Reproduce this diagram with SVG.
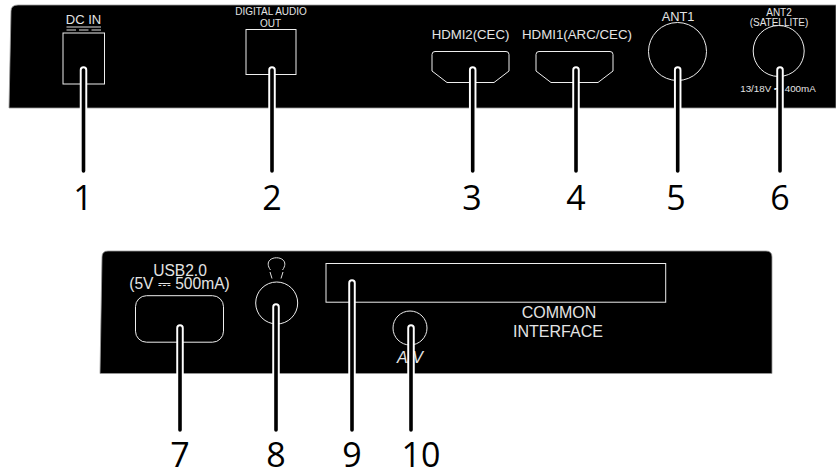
<svg xmlns="http://www.w3.org/2000/svg" width="836" height="472" viewBox="0 0 836 472">
<style>
.panel{fill:#000;stroke:#999;stroke-width:.8}
.port{fill:none;stroke:#eee;stroke-width:1}
.lbl{font-family:"Liberation Sans",Arial,sans-serif;fill:#e4e4e4;text-anchor:middle}
.num{font-family:"Open Sans",sans-serif;font-size:34px;fill:#000;text-anchor:middle}
.halo{stroke:#fff;stroke-width:7.5;stroke-linecap:round;fill:none}
.lead{stroke:#000;stroke-width:3.6;stroke-linecap:round;fill:none}
.sym{stroke:#ddd;stroke-width:1;fill:none}
</style>
<rect width="836" height="472" fill="#fff"/>
<g id="panel-top"><path class="panel" d="M9 108 L11 11 Q11 5 18 5 L836 5 L836 108 Z"/></g>
<g id="panel-bottom"><path class="panel" d="M100 373.500 L102 257 Q102 251 108 251 L766 251 Q772 251 772 257 L772 373.500 Z"/></g>
<g id="node-dc-in">
<rect class="port" x="63" y="33" width="41.500" height="51"/>
<text class="lbl" x="83.500" y="24" font-size="13">DC IN</text>
<path class="sym" d="M66.500 27H101M66.500 30H76M79 30H88.500M91.500 30H101"/>
</g>
<g id="node-digital-audio">
<rect class="port" x="246" y="29.500" width="50" height="45"/>
<text class="lbl" x="271" y="15" font-size="10">DIGITAL AUDIO</text>
<text class="lbl" x="270.500" y="27" font-size="10">OUT</text>
</g>
<g id="node-hdmi2">
<path class="port" d="M435 51.500H506Q509 51.500 509 54.500V71L494 82.500H447L432 71V54.500Q432 51.500 435 51.500Z"/>
<text class="lbl" x="470.500" y="39" font-size="13.200">HDMI2(CEC)</text>
</g>
<g id="node-hdmi1">
<path class="port" d="M539 51.500H610Q613 51.500 613 54.500V71L598 82.500H551L536 71V54.500Q536 51.500 539 51.500Z"/>
<text class="lbl" x="577" y="39" font-size="13.300">HDMI1(ARC/CEC)</text>
</g>
<g id="node-ant1">
<circle class="port" cx="677.500" cy="51.500" r="29"/>
<text class="lbl" x="678" y="21" font-size="12.800">ANT1</text>
</g>
<g id="node-ant2">
<circle class="port" cx="778.700" cy="51" r="25.500"/>
<text class="lbl" x="779" y="15.700" font-size="10">ANT2</text>
<text class="lbl" x="779" y="26" font-size="10">(SATELLITE)</text>
<text class="lbl" x="778" y="92" font-size="9.800">13/18V ⎓ 400mA</text>
</g>
<g id="node-usb">
<rect class="port" x="135.500" y="295.700" width="88" height="46.500" rx="11"/>
<text class="lbl" x="180" y="275.700" font-size="15.600">USB2.0</text>
<text class="lbl" x="179.500" y="289" font-size="15.600">(5V ⎓ 500mA)</text>
</g>
<g id="node-headphone">
<circle class="port" cx="276.700" cy="303" r="21"/>
<path class="sym" d="M270.500 270C267.500 266 267.500 262 270 260C273 257 280 257 283 260C285.500 262 285.500 266 282.500 270M270 272L272 278.500M283 272L281 278.500"/>
</g>
<g id="node-ci">
<rect class="port" x="326" y="263.500" width="339.700" height="38.700"/>
<text class="lbl" x="559" y="317.700" font-size="16">COMMON</text>
<text class="lbl" x="558" y="336.700" font-size="16">INTERFACE</text>
</g>
<g id="node-av">
<circle class="port" cx="410" cy="328" r="17"/>
<text class="lbl" x="410" y="362.500" font-size="16" font-style="italic">A/V</text>
</g>
<g id="connectors">
<path class="halo" d="M83.500 70V171M272 70V171M472.700 70V171M576 70V171M677.700 70V171M780 70V171M180 328V430M276 307V430M352 283V430M411 328V430"/>
<path class="lead" d="M83.500 70V171M272 70V171M472.700 70V171M576 70V171M677.700 70V171M780 70V171M180 328V430M276 307V430M352 283V430M411 328V430"/>
</g>
<g id="numbers">
<text class="num" x="83" y="210">1</text>
<text class="num" x="272" y="210">2</text>
<text class="num" x="472" y="210">3</text>
<text class="num" x="576" y="210">4</text>
<text class="num" x="676" y="210">5</text>
<text class="num" x="780" y="210">6</text>
<text class="num" x="180" y="467">7</text>
<text class="num" x="276" y="467">8</text>
<text class="num" x="352" y="467">9</text>
<text class="num" x="421" y="467">10</text>
</g>
</svg>
